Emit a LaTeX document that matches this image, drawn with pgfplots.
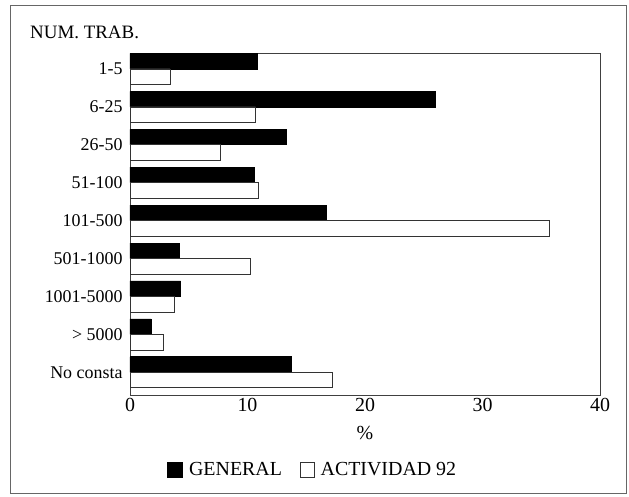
\documentclass[border=0pt]{standalone}
\usepackage{fontspec}
\setmainfont{Liberation Serif}
\usepackage{pgfplots}
\pgfplotsset{compat=1.18}
\usepackage{pgfplotstable}

% porcentaje por tamano de plantilla
\pgfplotstableread{
cat gen act
0 10.8 3.4
1 26.0 10.7
2 13.3 7.7
3 10.6 10.95
4 16.7 35.7
5 4.2 10.2
6 4.3 3.8
7 1.8 2.8
8 13.7 17.2
}\trabtab

\begin{document}
\begin{tikzpicture}
\path[use as bounding box] (-130bp,-102bp) rectangle (499bp,395bp);
\draw[black!60, line width=0.6bp] (-120bp,-98bp) rectangle (496bp,390bp);
\node[anchor=west, inner sep=0pt, font=\fontsize{19}{22}\selectfont] at (-100bp,363bp) {NUM. TRAB.};
\begin{axis}[
    at={(0bp,0bp)}, anchor=south west,
    scale only axis,
    width=470bp, height=342bp,
    xbar, bar width=15.5bp,
    xmin=0, xmax=40,
    ymin=-0.42, ymax=8.6,
    y dir=reverse,
    xtick={0,10,20,30,40},
    ytick={0,1,2,3,4,5,6,7,8},
    yticklabels={1-5,6-25,26-50,51-100,101-500,501-1000,1001-5000,{> 5000},No consta},
    major tick length=0pt,
    axis line style={black!75, line width=0.6bp},
    /pgf/number format/assume math mode=true,
    xticklabel style={font=\fontsize{20}{22}\selectfont},
    yticklabel style={font=\fontsize{18}{20}\selectfont, xshift=-4bp},
    xlabel={\%},
    xlabel style={at={(axis description cs:0.5,-0.111)}, anchor=center, font=\fontsize{20}{22}\selectfont},
    legend columns=-1,
    legend style={draw=none, at={(0.389,-0.219)}, anchor=center,
        font=\fontsize{20}{22}\selectfont,
        /tikz/every odd column/.append style={column sep=4bp},
        /tikz/every even column/.append style={column sep=16bp}},
]
\addplot[fill=black, draw=black, line width=0.6bp, bar shift=7.75bp,
    legend image code/.code={\draw[fill=black, draw=black] (0bp,-7.5bp) rectangle (15bp,7.5bp);}]
    table[x=gen, y=cat] {\trabtab};
\addlegendentry{GENERAL}
\addplot[fill=white, draw=black!80, line width=0.6bp, bar shift=-7.75bp,
    legend image code/.code={\draw[fill=white, draw=black!80, line width=0.6bp] (0bp,-7.5bp) rectangle (14bp,7.5bp);}]
    table[x=act, y=cat] {\trabtab};
\addlegendentry{ACTIVIDAD 92}
\end{axis}
\end{tikzpicture}
\end{document}
